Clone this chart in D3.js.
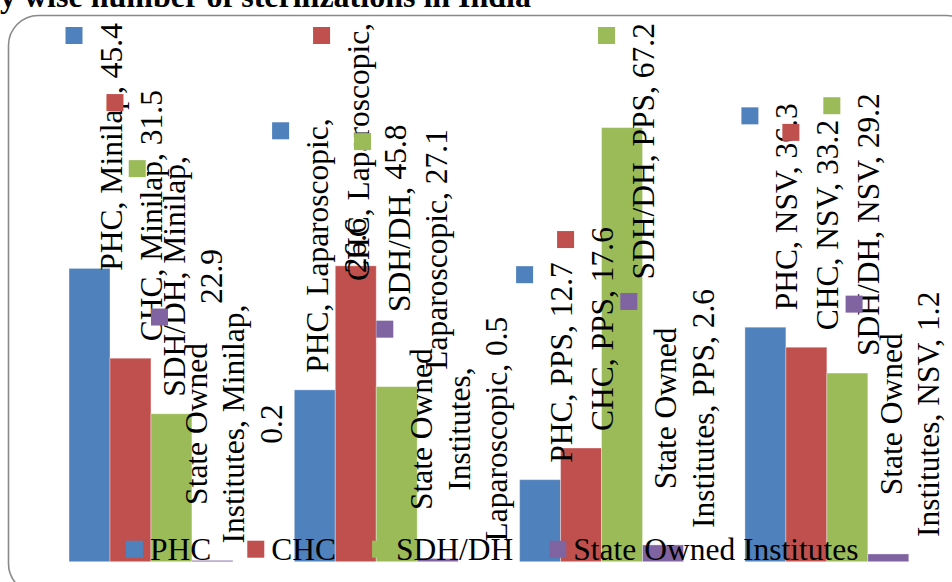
<!DOCTYPE html>
<html>
<head>
<meta charset="utf-8">
<script src="https://cdn.jsdelivr.net/npm/d3@7/dist/d3.min.js"></script>
<style>
  html, body { margin: 0; padding: 0; background: #ffffff; }
  svg { display: block; }
</style>
</head>
<body>
<svg id="chart" width="952" height="582"></svg>
<script>
// ---------- data ----------
const title = "Facility wise number of sterilizations in India";
const categories = ["Minilap", "Laparoscopic", "PPS", "NSV"];
const seriesNames = ["PHC", "CHC", "SDH/DH", "State Owned Institutes"];
const phcValues = [45.4, 26.6, 12.7, 36.3];
const chcValues = [31.5, 45.8, 17.6, 33.2];
const sdhValues = [22.9, 27.1, 67.2, 29.2];
const stateValues = [0.2, 0.5, 2.6, 1.2];
const seriesColors = ["#4F81BD", "#C0504D", "#9BBB59", "#8064A2"];

const seriesValues = [phcValues, chcValues, sdhValues, stateValues];

// ---------- layout ----------
const W = 952, H = 582;
const FONT = "'Liberation Serif', 'Times New Roman', Times, serif";
const FS = 31.5;
const svg = d3.select("#chart");

// chart border
svg.append("rect")
  .attr("x", 8.5).attr("y", 15.5)
  .attr("width", 968).attr("height", 578)
  .attr("rx", 30).attr("ry", 30)
  .attr("fill", "#ffffff")
  .attr("stroke", "#898989").attr("stroke-width", 1.6);

// title (cut off at the top like the reference)
svg.append("text")
  .attr("x", 531).attr("y", 7)
  .attr("text-anchor", "end")
  .attr("font-family", FONT).attr("font-weight", "bold")
  .attr("font-size", 32).attr("fill", "#000")
  .text(title);

const x0 = d3.scaleBand().domain(categories).range([38.3, 939.5]).paddingInner(0).paddingOuter(0);
const x1 = d3.scaleBand().domain(seriesNames).range([0, x0.bandwidth()]).paddingInner(0).paddingOuter(0.75);
const y = d3.scaleLinear().domain([0, 70]).range([561.7, 561.7 - 70 * 6.46]);

const table = [];
seriesNames.forEach((s, si) => {
  categories.forEach((c, ci) => {
    table.push({ series: s, si, category: c, value: seriesValues[si][ci] });
  });
});

// bars
svg.append("g").selectAll("rect")
  .data(table)
  .join("rect")
  .attr("x", d => x0(d.category) + x1(d.series))
  .attr("y", d => y(d.value))
  .attr("width", x1.bandwidth())
  .attr("height", d => y(0) - y(d.value))
  .attr("fill", d => seriesColors[d.si])
  .attr("stroke", "rgba(255,255,255,0.35)")
  .attr("stroke-width", 1);

// measuring helper
const meas = svg.append("text")
  .attr("font-family", FONT).attr("font-size", FS)
  .attr("x", -1000).attr("y", -1000);
function textW(t) { meas.text(t); return meas.node().getComputedTextLength(); }

const MAXW = 8.75 * FS;
function wrap(t) {
  const words = t.split(" ");
  const lines = [];
  let cur = "";
  words.forEach(w => {
    const cand = cur ? cur + " " + w : w;
    if (cur && textW(cand) > MAXW) { lines.push(cur); cur = w; }
    else cur = cand;
  });
  if (cur) lines.push(cur);
  return lines;
}

// data labels (rotated, with legend key)
const LINE = 37.4;
const labelG = svg.append("g");
table.forEach(d => {
  const txt = `${d.series}, ${d.category}, ${d3.format(".1f")(d.value)}`;
  const lines = wrap(txt);
  const n = lines.length;
  const maxW = d3.max(lines, textW);
  let bottom = y(d.value) - 17;
  let top = bottom - maxW;
  if (top < 23) { top = 23; bottom = top + maxW; }
  const cy = (top + bottom) / 2;
  const cx = x0(d.category) + x1(d.series) + x1.bandwidth() / 2;
  const g = labelG.append("g");
  lines.forEach((ln, i) => {
    const bx = cx + 32 + (i - (n - 1) / 2) * LINE;
    g.append("text")
      .attr("transform", `translate(${bx},${cy}) rotate(-90)`)
      .attr("text-anchor", "middle")
      .attr("font-family", FONT).attr("font-size", FS)
      .attr("fill", "#000")
      .text(ln);
  });
  const bx0 = cx + 32 - ((n - 1) / 2) * LINE;
  g.append("rect")
    .attr("x", bx0 - 56).attr("y", top + 4)
    .attr("width", 17).attr("height", 17)
    .attr("fill", seriesColors[d.si]);
});

// legend
const legendG = svg.append("g");
let cursor = 126;
seriesNames.forEach((s, si) => {
  legendG.append("rect")
    .attr("x", cursor).attr("y", 540.7)
    .attr("width", 17).attr("height", 17)
    .attr("fill", seriesColors[si]);
  legendG.append("text")
    .attr("x", cursor + 24).attr("y", 560)
    .attr("font-family", FONT).attr("font-size", FS)
    .attr("fill", "#000")
    .text(s);
  cursor += 24 + textW(s) + 36;
});
meas.remove();
</script>
</body>
</html>
